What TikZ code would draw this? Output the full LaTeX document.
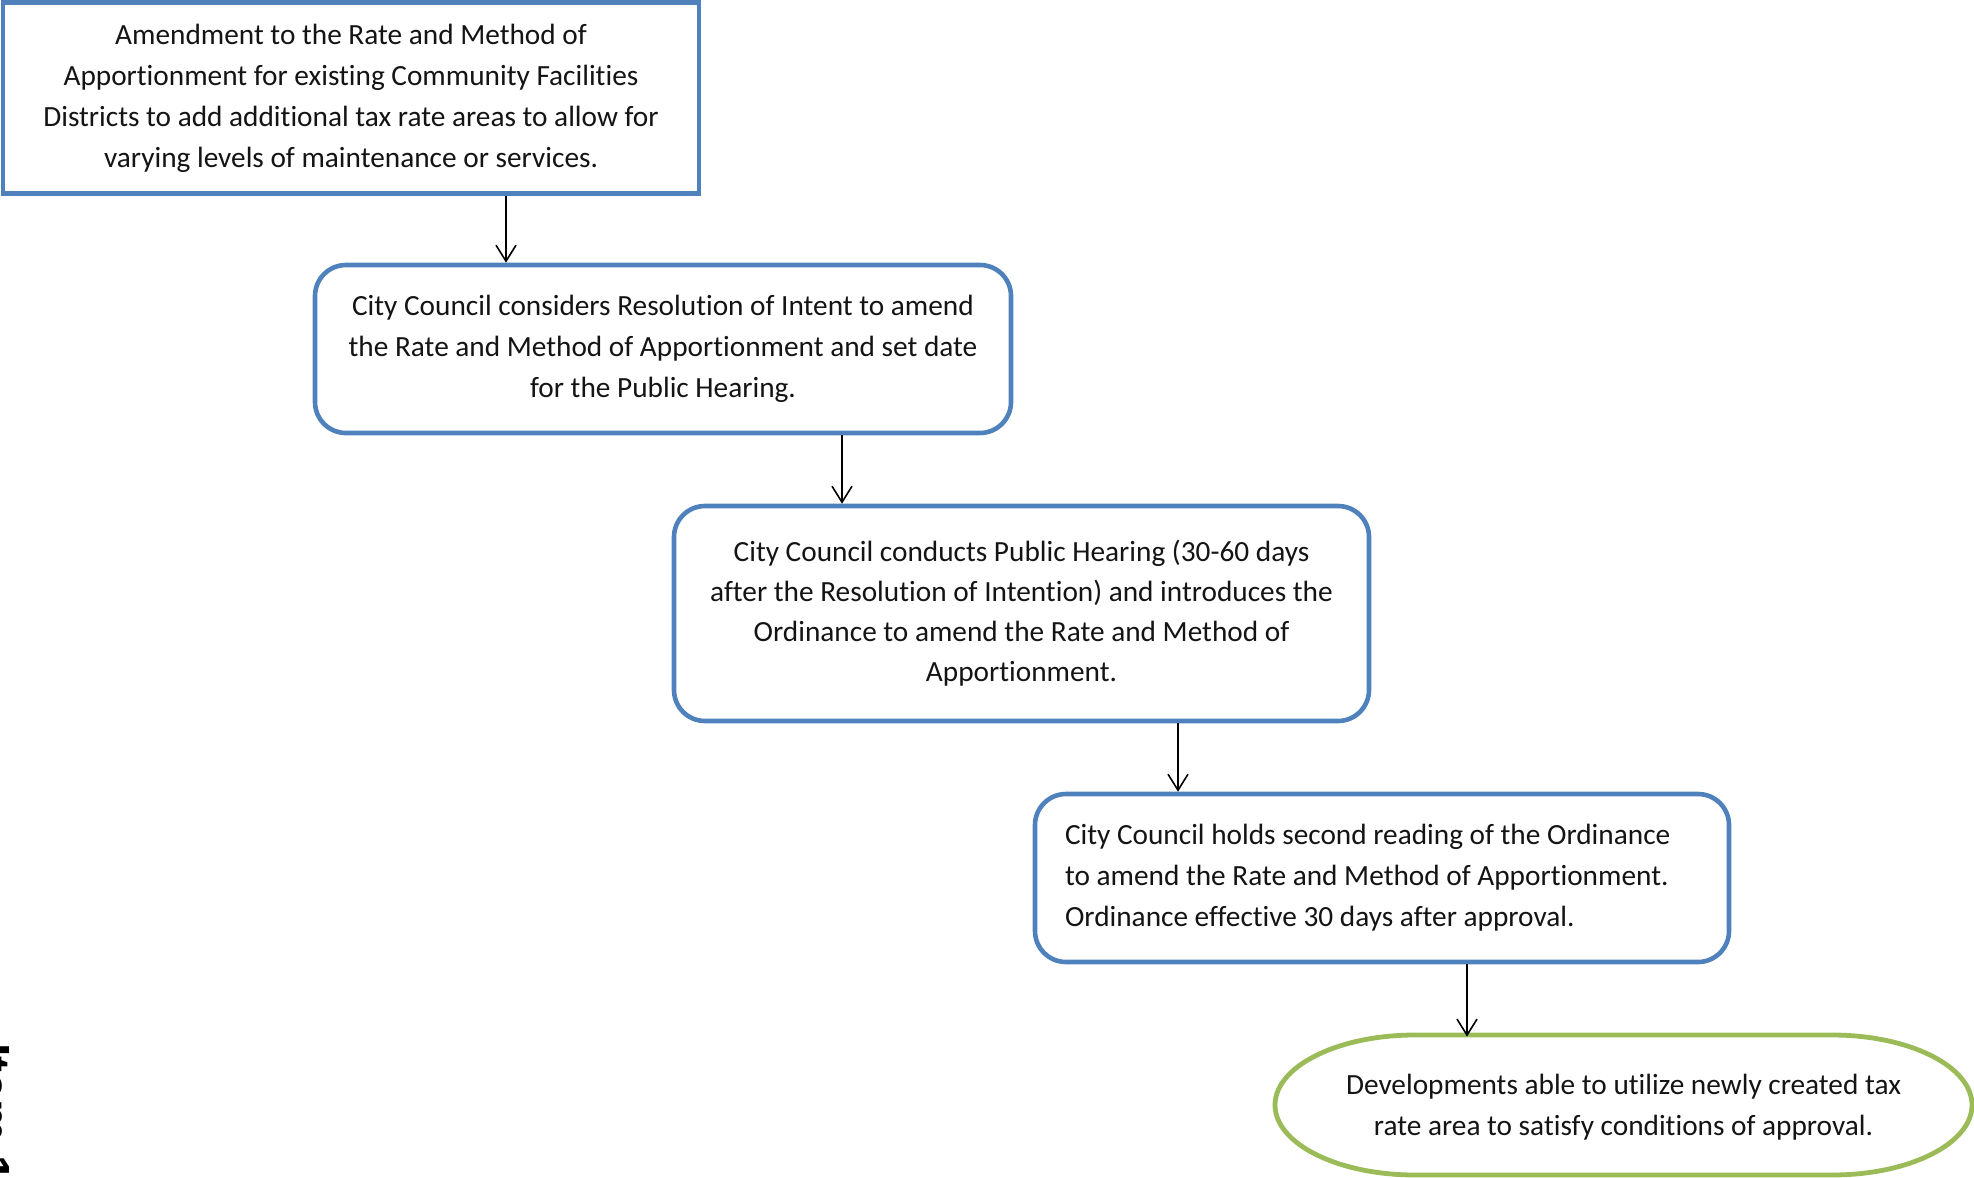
\documentclass[tikz,border=0pt]{standalone}
\usepackage{fontspec}
\setmainfont{Carlito}[Ligatures=NoCommon]
\newfontfamily\edgefont{Liberation Sans}
\usetikzlibrary{arrows.meta}
\definecolor{stepblue}{HTML}{4F81BD}
\definecolor{endgreen}{HTML}{9BBB59}
\tikzset{
  bodytext/.style={font=\fontsize{14.65}{20.5}\selectfont, text=black!92},
  stepbox/.style={bodytext, draw=stepblue, line width=2.3pt, fill=white,
    inner sep=0pt, align=center},
  roundbox/.style={stepbox, rounded corners=15.5pt},
  endshape/.style={draw=endgreen, line width=2.4pt, fill=white},
  flow/.style={draw=black, line width=0.8pt,
    -{Straight Barb[length=8pt,width=10pt,line width=0.8pt]}},
}
\begin{document}
\begin{tikzpicture}[x=0.5pt,y=-0.5pt]
\useasboundingbox (0,0) rectangle (1974,1177);

% rotated page label running off the left edge
\node[rotate=-90, anchor=base west, inner sep=0pt,
      font=\edgefont\bfseries\fontsize{24}{28}\selectfont] (edgelabel)
      at (-24,1043) {Item 1};

% process steps
\node[stepbox, minimum width=348pt, minimum height=95.5pt] (b1) at (351,98)
  {Amendment to the Rate and Method of\\
   Apportionment for existing Community Facilities\\
   Districts to add additional tax rate areas to allow for\\
   varying levels of maintenance or services.};

\node[roundbox, minimum width=348pt, minimum height=84pt] (b2) at (663,349)
  {City Council considers Resolution of Intent to amend\\
   the Rate and Method of Apportionment and set date\\
   for the Public Hearing.};

\node[roundbox, minimum width=347.5pt, minimum height=107.5pt] (b3) at (1021.5,613.5)
  {City Council conducts Public Hearing (30-60 days\\[-0.5pt]
   after the Resolution of Intention) and introduces the\\[-0.5pt]
   Ordinance to amend the Rate and Method of\\[-0.5pt]
   Apportionment.};

\node[roundbox, align=flush left, text width=317pt, minimum width=347pt, minimum height=84pt] (b4) at (1382,878)
  {City Council holds second reading of the Ordinance\\
   to amend the Rate and Method of Apportionment.\\
   Ordinance effective 30 days after approval.};

% final outcome: flattened oval
\path[endshape] (1415,1035) -- (1832,1035)
  arc[start angle=-90, end angle=90, x radius=140, y radius=70]
  -- (1415,1175)
  arc[start angle=90, end angle=270, x radius=140, y radius=70]
  -- cycle;
\node[bodytext, align=center, inner sep=0pt, minimum width=348.5pt, minimum height=70pt] (dev) at (1623.5,1107)
  {Developments able to utilize newly created tax\\
   rate area to satisfy conditions of approval.};

% connector columns
\coordinate (c1) at (506,0);
\coordinate (c2) at (842,0);
\coordinate (c3) at (1178,0);
\coordinate (c4) at (1467,0);

\draw[flow] (b1.south -| c1) -- (b2.north -| c1);
\draw[flow] (b2.south -| c2) -- (b3.north -| c2);
\draw[flow] (b3.south -| c3) -- (b4.north -| c3);
\draw[flow] (b4.south -| c4) -- (dev.north -| c4);
\end{tikzpicture}
\end{document}
